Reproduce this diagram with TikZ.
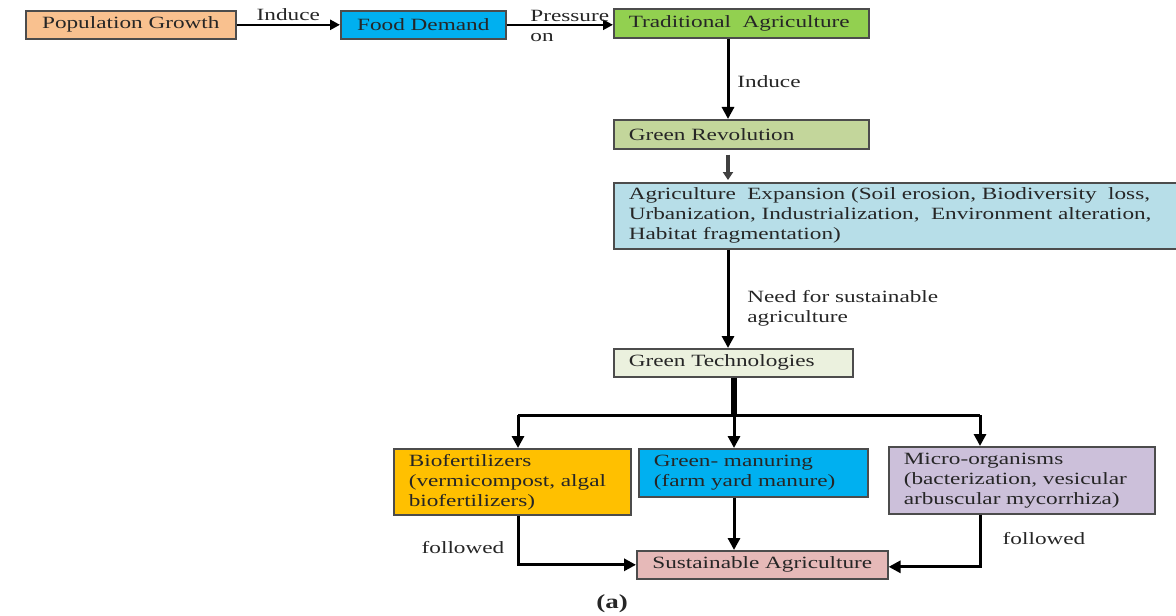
\documentclass[tikz,border=0pt]{standalone}
\usepackage{xcolor}
\usepackage{fontspec}
\setmainfont{Liberation Serif}[FakeStretch=1.35]
\usepackage{tikz}
\usetikzlibrary{positioning,arrows.meta}

\definecolor{popcol}{HTML}{F9C18F}
\definecolor{skycol}{HTML}{00B0F0}
\definecolor{tradcol}{HTML}{92D050}
\definecolor{revcol}{HTML}{C3D69B}
\definecolor{expcol}{HTML}{B7DEE8}
\definecolor{techcol}{HTML}{EBF1DE}
\definecolor{biocol}{HTML}{FFC000}
\definecolor{microcol}{HTML}{CCC0DA}
\definecolor{suscol}{HTML}{E6B9B8}

\begin{document}
\begin{tikzpicture}[x=0.5pt, y=-0.5pt, font=\fontsize{8.6}{10}\selectfont, text=black!85]
            \tikzstyle{box} = [draw=black!70, line width=0.8pt, inner sep=0pt, anchor=north west, minimum height=14pt];
            \tikzstyle{boxl} = [box, align=left, inner xsep=7.5pt];
            \tikzstyle{lbl} = [inner sep=0pt, align=left];
            \tikzstyle{arr} = [line width=1.5pt, -{Triangle[length=6pt, width=6pt]}];
            \useasboundingbox (0,0) rectangle (1176,615);

            \node [box, fill=popcol, minimum width=105pt] (PG) at (25,10) {Population Growth};
            \node [box, fill=skycol, minimum width=82.5pt] (FD) at (340,10) {Food Demand};
            \node [boxl, fill=tradcol, text width=112.5pt, minimum height=14.5pt] (TA) at (613,8) {Traditional~ Agriculture};
            \node [boxl, fill=revcol, text width=112.5pt, minimum height=14.5pt] (GR) at (613,119) {Green Revolution};
            \node [boxl, fill=expcol, text width=268pt, minimum height=33pt] (AE) at (613,182)
                {Agriculture~ Expansion (Soil erosion, Biodiversity~ loss,\\
                 Urbanization, Industrialization,~ Environment alteration,\\
                 Habitat fragmentation)};
            \node [boxl, fill=techcol, text width=104.5pt] (GT) at (613,348) {Green Technologies};

            \node [boxl, fill=biocol, text width=103.5pt, minimum height=33pt] (BF) at (393,448)
                {Biofertilizers\\(vermicompost, algal\\biofertilizers)};
            \node [boxl, fill=skycol, text width=99.5pt, minimum height=24pt] (GM) at (638,448)
                {Green- manuring\\(farm yard manure)};
            \node [boxl, fill=microcol, text width=118pt, minimum height=33.5pt] (MO) at (888,446)
                {Micro-organisms\\(bacterization, vesicular\\arbuscular mycorrhiza)};
            \node [box, fill=suscol, minimum width=125.5pt] (SA) at (636,550) {Sustainable Agriculture};

            % fixed columns for the vertical connectors
            \coordinate (col) at (728,0);
            \coordinate (split) at (734,415);
            \coordinate (bl) at (518,415);
            \coordinate (br) at (980,415);

            \draw [arr, line width=1.25pt, -{Triangle[length=5pt, width=5pt]}] (PG) to
                node [lbl, above=1.5pt] (induceA) {Induce} (FD);
            \draw [arr, line width=1.25pt, -{Triangle[length=5pt, width=5pt]}] (FD.east) to (FD.east -| TA.west);
            \node [lbl, anchor=west] (press) at (530,25.5) {Pressure\\on};

            \draw [arr] (col |- TA.south) to (col |- GR.north);
            \node [lbl, anchor=west] (induceB) at (737,82) {Induce};
            \draw [arr, line width=2pt, draw=black!75, -{Triangle[length=4pt, width=5pt]}]
                ([yshift=-2.5pt]col |- GR.south) to ([yshift=1pt]col |- AE.north);
            \draw [arr] (col |- AE.south) to (col |- GT.north);
            \node [lbl, anchor=west] (need) at (747,308) {Need for sustainable\\agriculture};

            \draw [line width=3pt] (split |- GT.south) to (split);
            \draw [line width=1.5pt] (bl) to (br);
            \draw [arr] (bl) to (bl |- BF.north);
            \draw [arr] (split) to (split |- GM.north);
            \draw [arr] (br) to (br |- MO.north);

            \draw [arr] (bl |- BF.south) |- (SA.west);
            \draw [arr] (split |- GM.south) to (split |- SA.north);
            \draw [arr] (br |- MO.south) |- ([yshift=-1pt]SA.east);
            \node [lbl] (follL) at (463,548) {followed};
            \node [lbl] (follR) at (1044,539) {followed};

            \node [lbl, font=\fontsize{10}{12}\selectfont\bfseries] (cap) at (612,604) {(a)};
        \end{tikzpicture}
\end{document}
